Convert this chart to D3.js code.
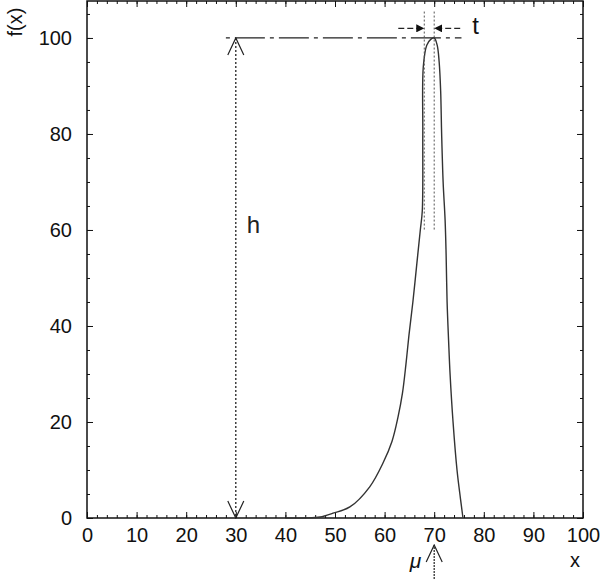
<!DOCTYPE html>
<html>
<head>
<meta charset="utf-8">
<script src="https://cdn.jsdelivr.net/npm/d3@7"></script>
<style>
  body { margin: 0; background: #fff; }
  svg { display: block; font-family: "Liberation Sans", Arial, sans-serif; }
  .axis path, .axis line { stroke: #111; }
  .axis text { font-size: 20px; fill: #111; }
</style>
</head>
<body>
<div id="chart"></div>
<script>
// tick values
const xTicks = [0, 10, 20, 30, 40, 50, 60, 70, 80, 90, 100];
const yTicks = [0, 20, 40, 60, 80, 100];
const xMinor = d3.range(0, 101, 2);
const yMinor = d3.range(0, 106, 5);

// peak curve f(x)
const curveX = [40, 44, 47, 49.6, 53, 57, 59.7, 61.5, 62.7, 63.6, 64.3, 64.9, 65.7, 66.5, 67.2, 67.6, 67.7, 67.8, 68.5, 69.3, 70,
  70.6, 71, 71.3, 71.5, 71.8, 72.2, 72.4, 72.6, 72.9, 73.2, 73.8, 74.6, 75.3, 75.8];
const curveY = [0, 0, 0.2, 1, 2.3, 6.5, 11.5, 16, 21, 26, 32, 38, 45, 53, 60, 64, 80, 94, 98.5, 99.7, 100,
  98.5, 95, 89, 80, 70, 62, 55, 45, 37, 30, 20, 10, 4, 0];

// annotation values
const mu = 70;      // peak position
const h = 100;      // peak height
const hX = 30;      // where the height arrow is drawn
const tLeft = 68;   // width markers
const tRight = 70;

const width = 600, height = 579;
const margin = { top: 1, right: 17, bottom: 61, left: 87 };

const x = d3.scaleLinear().domain([0, 100]).range([margin.left, width - margin.right]);
const y = d3.scaleLinear().domain([0, 107.7]).range([height - margin.bottom, margin.top]);

const svg = d3.select('#chart').append('svg')
  .attr('width', width)
  .attr('height', height);

const defs = svg.append('defs');
// open V arrowhead
defs.append('marker')
  .attr('id', 'vee')
  .attr('viewBox', '0 0 20 20')
  .attr('refX', 19).attr('refY', 10)
  .attr('markerWidth', 20).attr('markerHeight', 20)
  .attr('markerUnits', 'userSpaceOnUse')
  .attr('orient', 'auto-start-reverse')
  .append('path')
  .attr('d', 'M2,2 L19,10 L2,18')
  .attr('fill', 'none').attr('stroke', '#222').attr('stroke-width', 1.2);
// small filled arrowhead
defs.append('marker')
  .attr('id', 'tip')
  .attr('viewBox', '0 0 10 10')
  .attr('refX', 10).attr('refY', 5)
  .attr('markerWidth', 8).attr('markerHeight', 8)
  .attr('markerUnits', 'userSpaceOnUse')
  .attr('orient', 'auto')
  .append('path')
  .attr('d', 'M0,0 L10,5 L0,10 z')
  .attr('fill', '#111');

const y0 = y(0), yTop = y.range()[1];
const x0 = x(0), xEnd = x(100);

// minor ticks on all four sides
function minor(axis, vals, tr) {
  svg.append('g').attr('class', 'axis').attr('transform', tr)
    .call(axis.tickValues(vals).tickSize(-3).tickFormat(''))
    .call(g => g.select('.domain').remove());
}
minor(d3.axisBottom(x), xMinor, `translate(0,${y0})`);
minor(d3.axisTop(x), xMinor, `translate(0,${yTop})`);
minor(d3.axisLeft(y), yMinor, `translate(${x0},0)`);
minor(d3.axisRight(y), yMinor, `translate(${xEnd},0)`);

// major ticks with labels
svg.append('g').attr('class', 'axis')
  .attr('transform', `translate(0,${y0})`)
  .call(d3.axisBottom(x).tickValues(xTicks).tickSize(-6).tickPadding(10))
  .call(g => g.select('.domain').remove());
svg.append('g').attr('class', 'axis')
  .attr('transform', `translate(0,${yTop})`)
  .call(d3.axisTop(x).tickValues(xTicks).tickSize(-6).tickFormat(''))
  .call(g => g.select('.domain').remove());
svg.append('g').attr('class', 'axis')
  .attr('transform', `translate(${x0},0)`)
  .call(d3.axisLeft(y).tickValues(yTicks).tickSize(-6).tickPadding(15))
  .call(g => g.select('.domain').remove());
svg.append('g').attr('class', 'axis')
  .attr('transform', `translate(${xEnd},0)`)
  .call(d3.axisRight(y).tickValues(yTicks).tickSize(-6).tickFormat(''))
  .call(g => g.select('.domain').remove());

// frame
svg.append('rect')
  .attr('x', x0).attr('y', yTop)
  .attr('width', xEnd - x0).attr('height', y0 - yTop)
  .attr('fill', 'none').attr('stroke', '#111').attr('stroke-width', 1.5);

// curve
const line = d3.line()
  .x((d, i) => x(curveX[i]))
  .y(d => y(d))
  .curve(d3.curveCatmullRom.alpha(0.5));
svg.append('path')
  .attr('d', line(curveY))
  .attr('fill', 'none')
  .attr('stroke', '#333')
  .attr('stroke-width', 1.4);

// height line at y = h
svg.append('line')
  .attr('x1', x(hX - 2)).attr('x2', x(75.5))
  .attr('y1', y(h)).attr('y2', y(h))
  .attr('stroke', '#222').attr('stroke-width', 1.3)
  .attr('stroke-dasharray', '4,5,30,5');

// double arrow h
svg.append('line')
  .attr('x1', x(hX)).attr('x2', x(hX))
  .attr('y1', y(h)).attr('y2', y(0))
  .attr('stroke', '#222').attr('stroke-width', 1.3)
  .attr('stroke-dasharray', '2,2')
  .attr('marker-start', 'url(#vee)')
  .attr('marker-end', 'url(#vee)');
svg.append('text')
  .attr('x', x(hX) + 11).attr('y', y(60) + 3)
  .attr('font-size', 24).attr('fill', '#222')
  .text('h');

// width markers t
[tLeft, tRight].forEach(v => {
  svg.append('line')
    .attr('x1', x(v)).attr('x2', x(v))
    .attr('y1', y(105.5)).attr('y2', y(60))
    .attr('stroke', '#555').attr('stroke-width', 1)
    .attr('stroke-dasharray', '2,2');
});
svg.append('line')
  .attr('x1', x(tLeft) - 26).attr('x2', x(tLeft))
  .attr('y1', y(102)).attr('y2', y(102))
  .attr('stroke', '#222').attr('stroke-width', 1.2)
  .attr('stroke-dasharray', '6,3')
  .attr('marker-end', 'url(#tip)');
svg.append('line')
  .attr('x1', x(tRight) + 26).attr('x2', x(tRight))
  .attr('y1', y(102)).attr('y2', y(102))
  .attr('stroke', '#222').attr('stroke-width', 1.2)
  .attr('stroke-dasharray', '6,3')
  .attr('marker-end', 'url(#tip)');
svg.append('text')
  .attr('x', x(tRight) + 38).attr('y', y(102) + 6)
  .attr('font-size', 24).attr('fill', '#111')
  .text('t');

// mu arrow below the axis
svg.append('line')
  .attr('x1', x(mu)).attr('x2', x(mu))
  .attr('y1', height).attr('y2', y0 + 27)
  .attr('stroke', '#333').attr('stroke-width', 1.3)
  .attr('stroke-dasharray', '2,1')
  .attr('marker-end', 'url(#vee)');
svg.append('text')
  .attr('x', x(mu) - 13).attr('y', 568)
  .attr('text-anchor', 'end')
  .attr('font-size', 21).attr('font-style', 'italic').attr('fill', '#111')
  .text('μ');

// axis titles
svg.append('text')
  .attr('x', 575).attr('y', 567)
  .attr('text-anchor', 'middle')
  .attr('font-size', 20).attr('fill', '#111')
  .text('x');
svg.append('text')
  .attr('transform', `translate(22,22) rotate(-90)`)
  .attr('text-anchor', 'middle')
  .attr('font-size', 20).attr('fill', '#111')
  .text('f(x)');
</script>
</body>
</html>
